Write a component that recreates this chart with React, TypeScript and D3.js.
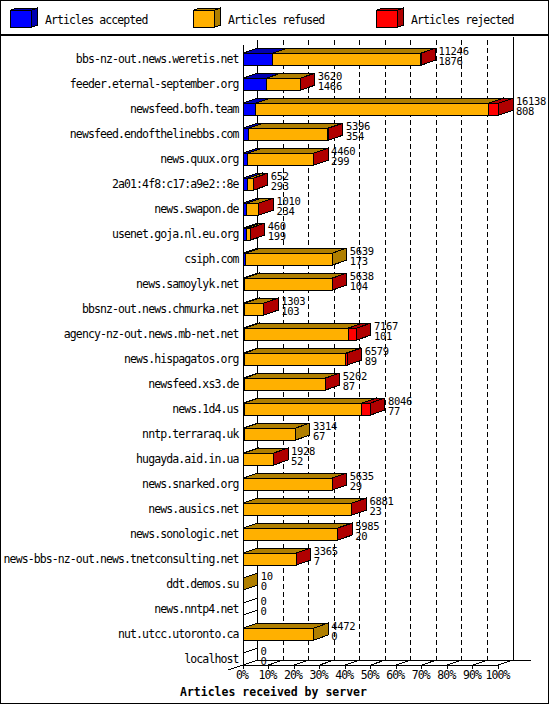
import React from 'react';
import * as d3 from 'd3';

const hosts = [
  'bbs-nz-out.news.weretis.net',
  'feeder.eternal-september.org',
  'newsfeed.bofh.team',
  'newsfeed.endofthelinebbs.com',
  'news.quux.org',
  '2a01:4f8:c17:a9e2::8e',
  'news.swapon.de',
  'usenet.goja.nl.eu.org',
  'csiph.com',
  'news.samoylyk.net',
  'bbsnz-out.news.chmurka.net',
  'agency-nz-out.news.mb-net.net',
  'news.hispagatos.org',
  'newsfeed.xs3.de',
  'news.1d4.us',
  'nntp.terraraq.uk',
  'hugayda.aid.in.ua',
  'news.snarked.org',
  'news.ausics.net',
  'news.sonologic.net',
  'news-bbs-nz-out.news.tnetconsulting.net',
  'ddt.demos.su',
  'news.nntp4.net',
  'nut.utcc.utoronto.ca',
  'localhost',
];

const accepted = [1876, 1466, 808, 354, 299, 293, 234, 199, 173, 104, 103, 101, 89, 87, 77, 67, 52, 29, 23, 20, 7, 0, 0, 0, 0];
const refused = [9358, 2146, 14700, 4982, 4151, 355, 770, 256, 5466, 5522, 1194, 6546, 6405, 5101, 7424, 3247, 1872, 5596, 6843, 5953, 3352, 10, 0, 4472, 0];
const rejected = [12, 8, 630, 60, 10, 4, 6, 5, 0, 12, 6, 520, 85, 14, 545, 0, 4, 10, 15, 12, 6, 0, 0, 0, 0];

const seriesNames = ['Articles accepted', 'Articles refused', 'Articles rejected'];
const percentTicks = [0, 10, 20, 30, 40, 50, 60, 70, 80, 90, 100];

const keys = ['accepted', 'refused', 'rejected'];
const fronts = ['#0000ff', '#ffb000', '#ff0000'];
const darks = ['#0000b0', '#b07f00', '#b00000'];

const W = 550;
const H = 705;
const DX = 14.5; // 3d depth
const DY = 5;
const BH = 12;
const FONT = '"DejaVu Sans Mono", monospace';

const App = () => {
  const rows = hosts.map((h, i) => ({ host: h, accepted: accepted[i], refused: refused[i], rejected: rejected[i] }));
  const stack = d3.stack().keys(keys)(rows as any);
  const totals = rows.map((r) => r.accepted + r.refused + r.rejected);

  const x = d3.scaleLinear().domain([0, d3.max(totals)]).range([243, 498.5]);
  const pct = d3.scaleLinear().domain([0, 100]).range(x.range());
  const y = d3.scalePoint().domain(hosts).range([59.2, 659]);

  const top = 40;
  const floorFront = (y(hosts[hosts.length - 1]) as number) + BH / 2;
  const floorBack = floorFront - DY;
  const x0 = x(0);
  const x1 = x.range()[1];

  const poly = (pts: number[][]) => pts.map((p) => p.join(',')).join(' ');

  const bars: any[] = [];
  rows.forEach((r, i) => {
    const cy = y(r.host) as number;
    const t = cy - BH / 2;
    const b = cy + BH / 2;
    if (totals[i] === 0) {
      bars.push(
        <polygon key={`z${i}`} points={poly([[x0, t], [x0 + DX, t - DY], [x0 + DX, b - DY], [x0, b]])} fill="#fff" stroke="#000" />
      );
      return;
    }
    keys.forEach((k, j) => {
      const seg = stack[j][i];
      if (seg[1] - seg[0] <= 0) return;
      const xs = x(seg[0]);
      const xe = x(seg[1]);
      bars.push(
        <g key={`b${i}-${j}`} stroke="#000" strokeWidth={1}>
          <rect x={xs} y={t} width={xe - xs} height={BH} fill={fronts[j]} />
          <polygon points={poly([[xs, t], [xs + DX, t - DY], [xe + DX, t - DY], [xe, t]])} fill={darks[j]} />
          <polygon points={poly([[xe, t], [xe + DX, t - DY], [xe + DX, b - DY], [xe, b]])} fill={darks[j]} />
        </g>
      );
    });
  });

  return (
    <svg width={W} height={H} style={{ position: 'absolute', left: 0, top: 0, background: '#fff' }} shapeRendering="crispEdges">
      <rect x={0.5} y={0.5} width={W - 2} height={H - 2} fill="#fff" stroke="#000" />
      <line x1={0} x2={W - 1} y1={34.5} y2={34.5} stroke="#000" strokeWidth={2} />

      {/* legend */}
      {seriesNames.map((s, j) => {
        const lx = 10 + j * 183;
        const lt = 10.5;
        const lb = 27.5;
        const lr = lx + 21;
        return (
          <g key={s}>
            <g stroke="#000">
              <rect x={lx} y={lt} width={21} height={lb - lt} fill={fronts[j]} />
              <polygon points={poly([[lx, lt], [lx + 6.5, lt - 2.5], [lr + 6.5, lt - 2.5], [lr, lt]])} fill={darks[j]} />
              <polygon points={poly([[lr, lt], [lr + 6.5, lt - 2.5], [lr + 6.5, lb - 2.5], [lr, lb]])} fill={darks[j]} />
            </g>
            <text x={lx + 35} y={24} fontFamily={FONT} fontSize={11.5} letterSpacing={-0.9} fill="#000">
              {s}
            </text>
          </g>
        );
      })}

      {/* back wall grid */}
      {percentTicks.slice(1, -1).map((p) => (
        <line key={p} x1={pct(p) + DX} x2={pct(p) + DX} y1={top} y2={floorBack} stroke="#000" strokeDasharray="5,3" />
      ))}
      <line x1={x0 + DX} x2={x0 + DX} y1={top} y2={floorBack} stroke="#000" />
      <line x1={x1 + DX} x2={x1 + DX} y1={top - 3} y2={floorBack} stroke="#000" />
      <line x1={x0 + DX} x2={x1 + DX + 18} y1={floorBack} y2={floorBack} stroke="#000" />

      {/* floor and ticks */}
      <line x1={x0} x2={x1} y1={floorFront} y2={floorFront} stroke="#000" />
      <line x1={x1} x2={x1 + DX} y1={floorFront} y2={floorBack} stroke="#000" />
      <line x1={x0 - DX} x2={x0} y1={floorFront + DY} y2={floorFront} stroke="#000" />
      {percentTicks.map((p) => (
        <g key={p} stroke="#000">
          <line x1={pct(p)} x2={pct(p)} y1={floorFront} y2={floorFront + 4} />
          <line x1={pct(p)} x2={pct(p) + DX} y1={floorFront} y2={floorBack} />
        </g>
      ))}
      <line x1={x0} x2={x0} y1={top + DY} y2={floorFront + 4} stroke="#000" />

      {bars}

      {/* host labels */}
      {hosts.map((h) => (
        <text key={h} x={238.5} y={(y(h) as number) + 4} textAnchor="end" fontFamily={FONT} fontSize={11.5} letterSpacing={-0.9} fill="#000">
          {h}
        </text>
      ))}

      {/* value labels: total received, then accepted */}
      {rows.map((r, i) => {
        const lx = x(totals[i]) + DX + 3;
        const cy = y(r.host) as number;
        return (
          <g key={r.host} fontFamily={FONT} fontSize={10.5} letterSpacing={-0.3} fill="#000">
            <text x={lx} y={cy - 4.5}>{totals[i]}</text>
            <text x={lx} y={cy + 6}>{r.accepted}</text>
          </g>
        );
      })}

      {/* percent axis */}
      {percentTicks.map((p) => (
        <text key={p} x={pct(p) - 1} y={679} textAnchor="middle" fontFamily={FONT} fontSize={11.5} letterSpacing={-0.9} fill="#000">
          {p}%
        </text>
      ))}
      <text x={180} y={695.5} fontFamily={FONT} fontSize={11.5} fontWeight="bold" fill="#000">
        Articles received by server
      </text>
    </svg>
  );
};

export default App;
